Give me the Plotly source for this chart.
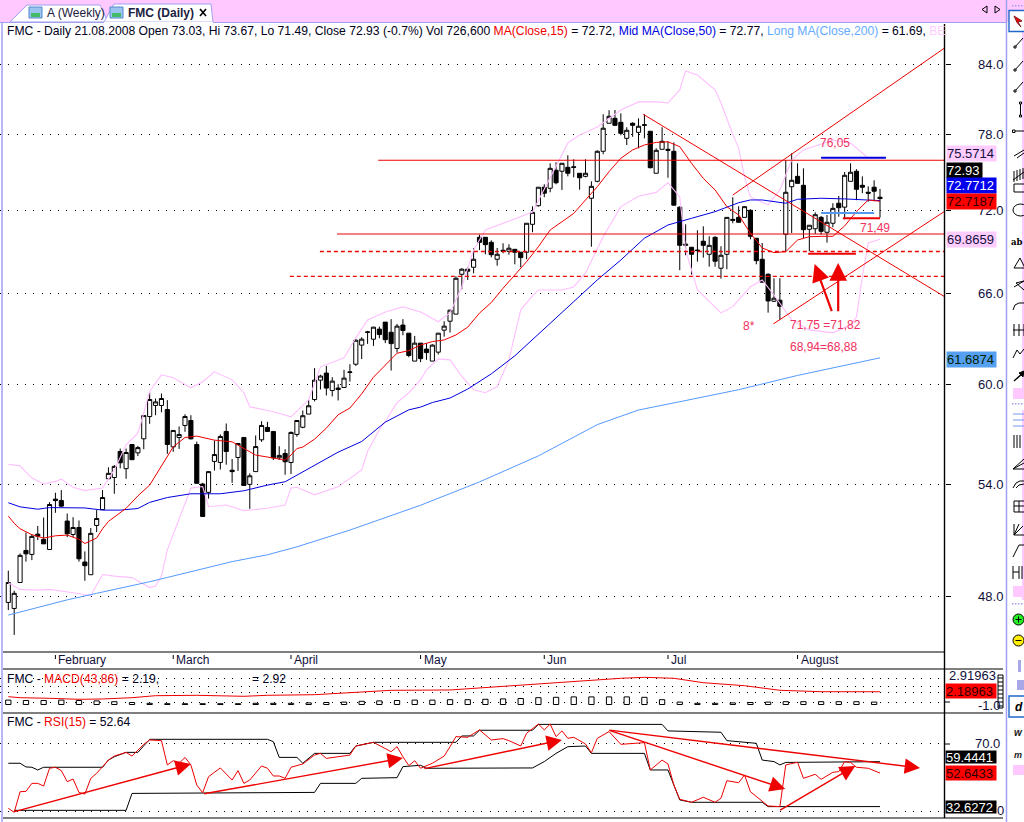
import math
import plotly.graph_objects as go

W, H = 1024, 822

# ---------- candles ----------
opens = [47.71,47.41,48.72,50.39,50.18,51.26,50.98,50.44,53.18,53.10,51.97,51.24,51.62,49.78,49.12,51.73,52.60,54.33,54.40,55.91,
54.91,56.32,55.83,56.66,58.00,58.68,58.68,58.43,56.18,56.74,57.46,57.76,56.32,54.03,53.56,55.33,55.27,57.10,54.82,55.56,
56.74,54.01,54.74,56.60,57.34,57.10,55.54,55.79,55.27,56.92,57.35,58.15,59.05,60.26,60.71,59.61,59.76,59.80,60.75,61.28,
62.52,63.36,62.91,63.58,64.05,63.37,62.30,63.85,63.31,61.48,62.65,62.26,61.48,62.06,63.51,64.11,64.59,67.35,67.71,67.85,
70.02,70.02,69.65,68.42,69.07,69.00,69.14,68.93,68.93,70.98,72.38,73.80,73.72,75.13,75.05,75.36,75.40,74.89,74.65,72.95,
74.26,76.64,78.93,79.34,79.01,77.69,78.93,78.18,78.81,78.27,74.89,76.80,76.80,76.64,72.27,69.43,69.29,69.09,69.73,68.78,
70.02,67.78,68.78,71.35,71.50,71.50,72.03,69.95,68.42,67.35,65.47,65.54,70.24,73.84,74.65,73.95,70.61,70.65,71.50,70.39,
71.06,72.57,72.27,74.26,75.05,73.95,73.41,73.80,73.03]
closes = [48.72,48.17,50.13,50.21,51.14,51.15,50.74,52.88,53.10,52.79,51.28,51.62,49.95,49.59,51.30,52.11,53.27,54.64,55.04,55.25,
55.85,55.43,56.14,58.06,59.05,58.90,59.11,56.32,57.16,56.92,58.00,56.66,54.07,52.22,54.74,55.73,56.80,55.91,54.74,56.38,
53.95,54.50,56.20,57.46,57.10,55.54,55.68,55.31,57.04,57.76,58.05,58.66,60.26,60.52,59.76,60.20,59.67,60.39,60.78,62.84,
62.91,63.39,63.71,63.22,62.88,62.62,63.78,63.49,61.84,62.65,61.64,62.03,62.52,63.31,63.78,64.86,67.07,67.71,67.57,68.42,
69.65,69.48,68.75,68.78,69.00,69.22,68.93,68.54,71.06,71.88,73.80,73.34,75.28,74.15,75.68,74.89,75.36,74.54,74.89,73.87,
76.64,78.52,79.51,78.76,78.10,78.35,78.76,78.68,78.77,75.33,76.72,77.45,76.72,72.42,69.43,69.51,68.78,69.05,69.43,69.43,
68.28,68.71,71.50,71.28,71.13,72.31,70.09,68.32,66.79,65.49,65.68,65.13,73.41,74.34,74.10,70.58,70.91,71.70,70.46,71.13,
72.18,72.23,74.73,74.97,73.64,73.80,73.34,73.49,72.93]
highs = [49.33,48.30,50.23,51.35,51.26,51.70,52.16,53.01,53.54,53.69,52.38,52.18,52.00,50.34,51.59,52.57,53.69,54.99,55.12,56.08,
56.08,56.32,56.24,58.06,59.48,59.11,59.42,59.01,57.16,57.40,58.14,58.08,56.49,54.10,54.74,56.56,56.92,57.58,55.47,56.38,
56.74,54.64,56.86,57.72,57.68,57.10,56.22,56.04,57.10,57.76,58.37,59.03,61.03,60.60,61.17,60.45,60.01,60.92,61.28,62.95,
63.04,63.46,63.73,63.75,64.05,64.25,63.93,64.25,63.31,63.13,62.65,62.65,62.58,63.31,64.11,64.86,67.21,67.78,67.84,69.22,
70.21,70.02,69.80,69.24,69.58,69.51,69.14,68.93,71.06,72.34,73.80,74.03,75.68,75.76,75.68,76.32,76.00,74.89,76.00,74.26,
76.72,79.68,80.02,80.04,79.76,78.60,79.01,79.34,79.68,78.27,76.88,78.60,77.45,77.36,72.34,70.98,69.29,70.54,70.83,70.09,
70.09,69.36,71.50,73.03,72.34,72.31,72.11,69.95,69.60,67.42,67.07,67.07,75.94,76.48,75.68,75.28,70.91,71.88,71.60,71.68,
72.57,73.13,74.99,75.68,75.21,74.65,73.87,74.34,73.67]
lows = [47.33,46.11,48.72,49.80,49.88,50.94,50.74,50.44,52.42,52.75,51.10,51.10,49.80,48.81,49.12,51.37,52.60,54.33,53.48,54.93,
54.33,55.43,55.64,56.04,57.56,58.08,58.26,55.77,55.89,56.06,57.08,56.62,54.07,52.22,53.21,54.80,54.86,55.14,54.10,54.78,
53.95,52.64,54.74,56.48,57.10,55.41,55.41,54.56,54.60,56.78,57.29,58.15,58.93,59.67,59.30,59.24,58.99,59.80,60.17,61.17,
61.61,62.60,62.47,62.97,62.65,60.87,62.03,63.17,61.73,61.48,61.41,61.56,61.48,61.91,63.08,63.35,64.59,66.30,66.95,67.42,
69.09,68.78,68.56,67.96,68.85,68.75,68.06,67.85,68.42,70.39,72.31,73.03,73.41,74.03,73.59,74.65,74.57,73.61,74.57,69.33,
74.18,76.40,78.93,78.70,77.94,77.15,77.82,76.88,77.69,75.28,74.89,76.80,74.54,72.42,67.64,68.71,67.33,68.25,68.54,67.89,
67.89,67.04,67.71,71.06,71.13,71.50,69.87,68.06,66.79,64.69,65.42,64.20,68.97,70.34,74.10,69.95,69.00,70.26,70.21,69.63,
70.76,71.55,71.35,74.26,72.80,73.34,72.69,72.72,71.49]
bars = list(range(len(closes)))

# ---------- overlays: bar index, then price ----------
ma15_x = [0,1,2,4,6,8,10,12,13,14,15,16,17,20,22,24,26,28,30,32,35,38,42,46,47,48,49,50,52,54,56,58,60,62,64,66,68,70,72,74,76,78,80,82,84,86,88,90,92,94,96,98,100,102,104,106,108,110,112,114,116,118,120,122,124,126,128,130,132,134,136,138,140,142,144,146,148]
ma15 = [52.24,51.85,51.55,51.23,51.05,51.17,51.21,50.98,50.76,50.89,51.05,51.55,51.95,52.67,53.36,53.97,55.06,56.18,56.74,56.82,56.58,56.48,55.70,55.50,55.41,55.70,56.08,56.17,56.64,57.30,58.11,58.52,59.40,60.45,61.24,61.99,62.16,62.53,62.75,62.86,63.19,63.71,64.66,65.38,66.37,67.31,68.25,69.33,70.56,71.17,71.80,72.82,73.84,75.02,76.08,76.75,77.15,77.36,77.41,77.01,75.68,74.49,73.59,72.31,71.68,70.32,69.24,68.90,68.97,69.82,70.06,70.09,70.09,70.86,71.93,72.82,72.72]
ma50_x = [0,2,5,7,13,16,19,22,24,27,31,36,40,44,47,49,52,56,60,64,68,70,72,74,75,78,82,86,90,94,96,100,104,108,112,116,120,124,126,128,132,134,138,142,146,148]
ma50 = [52.98,52.75,52.62,52.71,52.69,52.57,52.57,52.66,53.00,53.27,53.48,53.48,53.65,53.97,54.16,54.54,55.07,55.87,56.50,57.66,58.41,58.58,58.86,59.03,59.14,59.70,60.66,61.82,63.26,64.76,65.44,66.95,68.37,69.95,70.93,71.43,71.93,72.61,72.82,72.82,72.57,72.87,72.95,72.90,72.82,72.77]
ma200_x = [0,5,10,15,20,24,27,32,38,44,49,58,70,80,90,100,107,114,124,134,148]
ma200 = [47.08,47.45,47.84,48.17,48.48,48.76,48.98,49.36,49.80,50.16,50.58,51.48,52.84,54.15,55.65,57.51,58.40,58.91,59.66,60.56,61.69]
bb_top_x = [0,2,4,6,8,9,11,13,16,18,20,22,23,24,26,28,31,33,35,38,40,41,45,48,51,53,57,59,61,64,67,70,73,75,77,79,81,87,89,95,97,100,104,107,110,112,114,115,117,120,121,123,124,125,126,129,131,133,135,140,143,146,148]
bb_top = [55.17,55.07,54.37,54.03,54.18,54.31,53.85,53.66,53.80,54.84,56.30,57.00,58.21,59.55,60.60,60.41,59.78,60.16,60.79,60.28,59.47,58.60,58.29,57.98,59.03,61.11,61.69,63.00,64.20,64.74,65.08,64.74,64.07,64.67,66.46,69.09,70.56,71.60,71.90,77.30,77.96,78.62,80.04,80.72,80.72,80.63,81.75,83.38,83.03,81.75,80.63,78.03,76.90,74.60,73.05,72.44,73.59,75.94,76.75,77.55,77.30,76.10,76.10]
bb_low_x = [0,2,5,7,11,14,16,18,21,24,25,26,27,29,31,33,34,37,40,44,47,48,49,52,56,60,61,63,64,66,68,70,71,73,75,77,79,81,83,85,87,89,90,94,96,98,101,104,107,110,112,114,115,117,121,123,126,128,130,133,136,140,143,144,145,146,148]
bb_low = [48.71,48.37,48.33,48.37,48.20,48.06,49.13,49.05,48.97,48.46,48.54,49.05,50.42,52.03,53.80,53.89,52.76,52.85,52.54,52.67,52.85,53.80,53.85,53.42,53.87,54.84,55.91,57.20,57.70,58.85,59.47,60.28,60.92,61.62,61.56,60.50,59.66,59.47,59.86,61.56,64.88,65.84,66.25,66.25,66.46,67.45,70.06,72.31,73.10,73.40,74.15,73.05,69.09,66.25,64.67,65.10,66.48,66.95,65.90,64.20,63.53,63.33,63.87,64.40,67.16,69.60,69.87]

# ---------- drawn studies: [bar, bar], [price, price] ----------
trend_lines = [([107.8,158.95],[79.68,65.79]), ([123,158.95],[73.2,85.42]), ([129.9,158.95],[63.93,71.95])]
solid_levels = [(62.8,75.92),(55.8,70.26)]
dashed_levels = [(52.9,68.98),(47.8,67.20)]
level_end = 158.95
marks = [(138,149,76.12,"#0000E0"),(138,147,71.83,"#5599EE"),(141.7,148,71.43,"#EE0000"),(135.8,143.9,68.82,"#EE0000")]
price_arrows = [(136.9,68.08,139.9,64.69),(140.9,68.15,140.9,64.69)]
price_ticks = [48,54,60,66,72,78,84]

# ---------- MACD ----------
macd_x = [0,2,7,12,16,21,25,32,40,44,52,59,65,75,82,85,95,104,108,113,118,125,131,138,148]
macd = [0.95,0.70,0.55,0.30,0.38,0.70,1.20,1.30,1.05,1.30,1.45,1.95,2.55,2.63,3.38,3.63,4.70,5.55,5.80,5.55,4.45,3.70,2.55,2.20,2.19]
hist_x = list(range(0,148,3))
hist = [1.1,1.0,1.0,1.1,1.0,.9,.7,.5,.3,.2,.2,.2,.2,.2,.3,.3,.3,.4,.5,.6,.8,.9,1.0,1.1,1.1,1.2,1.2,1.3,1.4,1.5,1.7,1.8,1.9,1.9,1.9,1.9,1.8,1.2,.6,.3,.3,.4,.5,.6,.7,.7,.7,.7,.7,.6]
macd_rows = [5.4,3.4,1.9,-0.4]

# ---------- RSI ----------
rsi_x = [0,1,2,3,4,5,6,7,8,9,10,11,12,13,14,15,17,18,20,21,23,24,26,27,28,29,30,31,32,33,34,36,38,39,40,41,43,44,45,46,47,48,50,52,53,54,56,58,59,62,65,66,67,68,69,70,72,74,75,76,78,80,82,84,85,87,88,90,91,92,93,94,95,96,98,99,100,102,104,108,109,111,112,113,114,116,118,120,121,122,124,125,126,129,131,132,134,135,137,138,140,141,142,143,144,146,148]
rsi = [31.6,29.2,41.5,41.7,46.5,46.5,44.9,55.5,56.1,54.1,47.5,49.1,41.1,40.1,49.5,52.5,60.4,62.8,65,62.8,69.8,72.4,72,57.5,60,58.5,62,57.5,45.5,40.9,50.5,55.7,48.5,54.1,46.5,48.5,56.9,55.5,50.9,50.9,49.5,56.1,58.1,63.4,64.4,61.4,62.4,63.4,68.8,71,65.4,68.4,62.4,57.1,60,55.5,58.5,62.8,68.4,74.4,74,78.4,72.4,73.2,72,68.8,76.4,81.9,78.4,81.9,74.4,77.8,73.4,74,70,64.8,73.4,77.4,69.8,70.8,54.5,60.4,58.1,45.5,37,35.2,38.2,35.2,37.6,48.1,46.9,51.5,41.5,33,32.6,57.5,59.1,49.5,51.9,48.9,53.1,53.5,59.5,59,56.1,55.5,52.64]
rsi_up_x = [0,2,3,4,5,6,16,17,18,20,22,24,44,45,46,49,50,52,58,59,62,76,77,79,80,89,90,111,112,121,122,127,128,130,131,132,148]
rsi_up = [58.5,58.5,56.3,56.1,54.5,56.1,56.1,60.4,62.4,65,65,72.8,72.8,71.4,62,62,58.5,64.4,64.4,68.8,71,71,74.8,74.8,78.2,78.2,81.7,81.7,77.8,77,72,70.4,60.4,59.5,57.5,59,59.44]
rsi_lo_x = [1,20,21,52,53,59,60,66,67,70,71,89,91,93,95,98,99,108,109,112,113,114,116,128,129,148]
rsi_lo = [30.4,30.4,40.5,41.1,46.5,46.5,49.5,49.9,56.5,57.3,55.5,55.7,59.5,64.4,68.4,68.8,64.4,64.4,54.5,54.5,45.5,36.6,35.2,35.2,32.6,32.63]
rsi_arrows = [(31,58.1,0.8,29.4),(67,61.6,33,40.1),(94,72.4,70.4,55.1),(131.9,43.1,101.8,78.4),(154.8,55.7,101.8,78.4),(143.8,56.9,130.8,30)]

months = ["February","March","April","May","Jun","Jul","August"]
month_bars = [8,28,48,70,91,112,134]

FONT = "Liberation Sans"
INK = "#10103c"
RED = "#EE0000"
PINK = "#FFBFFF"
TXT = "#F03060"
PANE = "#A0A0F0"

def px(x): return x / W
def py(y): return 1 - y / H

fig = go.Figure()

def line(x, y, color, width=1, dash=None, xa="x", ya="y"):
    fig.add_trace(go.Scatter(x=x, y=y, mode="lines", xaxis=xa, yaxis=ya, hoverinfo="skip", showlegend=False,
                             line=dict(color=color, width=width, dash=dash, shape="linear")))

line(bb_top_x, bb_top, PINK, 1.1)
line(bb_low_x, bb_low, PINK, 1.1)
line(ma200_x, ma200, "#5599FF", 1)
line(ma50_x, ma50, "#0000E0", 1)
line(ma15_x, ma15, RED, 1)
fig.add_trace(go.Candlestick(x=bars, open=opens, high=highs, low=lows, close=closes, xaxis="x", yaxis="y",
    showlegend=False, hoverinfo="skip", whiskerwidth=0,
    increasing=dict(line=dict(color="black", width=1), fillcolor="white"),
    decreasing=dict(line=dict(color="black", width=1), fillcolor="black")))
for a, b in solid_levels:
    line([a, level_end], [b, b], RED, 1.2)
for a, b in dashed_levels:
    line([a, level_end], [b, b], RED, 1.3, "4px,3px")
for xs, ys in trend_lines:
    line(xs, ys, RED, 1)
for a, b, p, c in marks:
    line([a, b], [p, p], c, 2)

# MACD pane
fig.add_trace(go.Bar(x=hist_x, y=hist, base=-1, xaxis="x2", yaxis="y2", width=0.9, showlegend=False, hoverinfo="skip",
                     marker=dict(color="white", line=dict(color="black", width=1))))
line(macd_x, macd, RED, 1, xa="x2", ya="y2")

# RSI pane
line(rsi_up_x, rsi_up, "black", 1, xa="x3", ya="y3")
line(rsi_lo_x, rsi_lo, "black", 1, xa="x3", ya="y3")
line(rsi_x, rsi, RED, 1, xa="x3", ya="y3")

ann = []
def text(x, y, t, size=12, color=INK, anchor="left", **kw):
    ann.append(dict(x=px(x), y=py(y), xref="paper", yref="paper", text=t, showarrow=False, xanchor=anchor, yanchor="middle",
                    font=dict(family=kw.pop("family", FONT), size=size, color=color), **kw))
def box(x, y0, y1, w, t, bg, fg):
    ann.append(dict(x=px(x), y=py((y0 + y1) / 2), xref="paper", yref="paper", text=t, showarrow=False, xanchor="left", yanchor="middle",
                    width=w, height=y1 - y0, borderpad=0, align="left", bgcolor=bg,
                    font=dict(family=FONT, size=13, color=fg)))

# arrows
for hx, hy, tx, ty in price_arrows:
    ann.append(dict(x=hx, y=math.log10(hy), ax=tx, ay=math.log10(ty), xref="x", yref="y", axref="x", ayref="y", text="",
                    showarrow=True, arrowhead=2, arrowsize=1.6, arrowwidth=2.2, arrowcolor=RED))
for hx, hy, tx, ty in rsi_arrows:
    ann.append(dict(x=hx, y=hy, ax=tx, ay=ty, xref="x3", yref="y3", axref="x3", ayref="y3", text="",
                    showarrow=True, arrowhead=2, arrowsize=2.2, arrowwidth=1.4, arrowcolor=RED))

# headers
text(4.5, 31, 'FMC - Daily 21.08.2008 Open 73.03, Hi 73.67, Lo 71.49, Close 72.93 (-0.7%) Vol 726,600 '
     '<span style="color:#EE0000">MA(Close,15)</span> = 72.72, <span style="color:#0000E0">Mid MA(Close,50)</span> = 72.77, '
     '<span style="color:#66AAFF">Long MA(Close,200)</span> = 61.69, <span style="color:#FFCCFF">BE</span>', 12.15, "#000020")
text(4.5, 679, 'FMC - <span style="color:#EE0000">MACD(43,86)</span> = 2.19,', 12.15, "#000020")
text(250, 679, '= 2.92', 12.15, "#000020")
text(4.5, 722, 'FMC - <span style="color:#EE0000">RSI(15)</span> = 52.64', 12.15, "#000020")

# chart labels
text(818, 143, "76,05", 12, TXT)
text(858, 228, "71,49", 12, TXT)
text(741, 326, "8*", 12, TXT)
text(788, 325, "71,75 =71,82", 12, TXT)
text(788, 347, "68,94=68,88", 12, TXT)

# month labels
for m, b in zip(months, month_bars):
    ann.append(dict(x=b, y=py(660), xref="x", yref="paper", text=m, showarrow=False, xanchor="left", yanchor="middle", xshift=1,
                    font=dict(family=FONT, size=12, color=INK)))

# value boxes
box(946, 146, 161, 49, "75.5714", "#FFCCFF", "#10103c")
box(946, 163, 178, 35, "72.93", "black", "white")
box(946, 178, 193, 49, "72.7712", "#0000EE", "white")
box(946, 194, 209, 49, "72.7187", "#FF0000", "#300000")
box(946, 232, 247, 49, "69.8659", "#FFCCFF", "#10103c")
box(946, 352, 367, 49, "61.6874", "#55A0F0", "#002000")
text(947, 675, "2.91963", 13)
box(945, 684, 698, 50, "2.18963", "#FF0000", "#300000")
text(1002, 705, "-1.0", 13, anchor="right")
text(1002, 743, "70.0", 13, anchor="right")
box(945, 751, 763, 50, "59.4441", "black", "white")
box(945, 766, 780, 50, "52.6433", "#FF0000", "#300000")
box(945, 801, 813, 50, "32.6272", "black", "white")
text(995, 810, "0", 13)

# ---------- window furniture ----------
sh = []
def seg(x0, y0, x1, y1, color="black", w=1):
    sh.append(dict(type="line", xref="paper", yref="paper", x0=px(x0), y0=py(y0), x1=px(x1), y1=py(y1), line=dict(color=color, width=w)))
def rect(x0, y0, x1, y1, fill=None, color=None, w=1):
    sh.append(dict(type="rect", xref="paper", yref="paper", x0=px(x0), y0=py(y0), x1=px(x1), y1=py(y1),
                   fillcolor=fill or "rgba(0,0,0,0)", line=dict(color=color or "rgba(0,0,0,0)", width=w if color else 0)))
def poly(pts, fill=None, color="black", w=1, close=False):
    d = "M" + " L".join(f"{px(a):.5f},{py(b):.5f}" for a, b in pts) + (" Z" if close else "")
    sh.append(dict(type="path", xref="paper", yref="paper", path=d, fillcolor=fill or "rgba(0,0,0,0)", line=dict(color=color, width=w)))

rect(0, 0, W, 22, "#FFC8FF")
seg(0, 22.5, 1006, 22.5, PANE, 1)
seg(2, 22, 2, H, PANE, 1.5)
seg(1006.5, 0, 1006.5, H, PANE, 1.5)
# tabs
poly([(10, 22), (27, 5), (100, 5), (108, 22)], "white", PANE, 1, True)
poly([(104, 22), (114, 4), (211, 4), (213, 22)], "white", PANE, 1, True)
seg(104, 22.5, 213, 22.5, "white", 1.5)
for x0 in (29, 110):
    rect(x0, 7, x0 + 13, 18, "#9CC4F0", "#5588CC")
    rect(x0 + 2, 13, x0 + 11, 17, "#44BB66")
text(45, 13, "A (Weekly)", 12, "#202040")
text(126, 13, "<b>FMC (Daily)</b>", 12, "#202040")
seg(200, 9, 206, 16, "black", 1.6)
seg(206, 9, 200, 16, "black", 1.6)
poly([(987, 6), (982, 9.5), (987, 13)], "#FFC8FF", "black", 1, True)
poly([(995, 6), (1000, 9.5), (995, 13)], "#FFC8FF", "black", 1, True)
# frames
seg(944.5, 24, 944.5, 818, "black", 1.4)
seg(3, 652, 945, 652, "black", 1.2)
seg(3, 669, 1003, 669, "black", 1.2)
seg(3, 713, 1003, 713, "black", 1.2)
seg(3, 818, 1003, 818, "black", 1.2)
for b in month_bars:
    sh.append(dict(type="line", xref="x", yref="paper", x0=b, x1=b, y0=py(655), y1=py(659), line=dict(color="black", width=1)))
# MACD legend chain
rect(998, 675, 1003, 708, "white", "black", 1)
for yy in range(678, 708, 4):
    seg(998, yy, 1003, yy, "black", 1)
seg(945, 702, 950, 702, "black", 1)
seg(945, 744, 950, 744, "black", 1)
# toolbar strip
rect(1022, 32, 1024, 395, "#FFC8FF")
rect(1022, 410, 1024, 600, "#FFC8FF")
for xx in range(1012, 1024, 3):
    rect(xx, 5, xx + 1.5, 6.5, PANE)
    rect(xx, 403, xx + 1.5, 404.5, PANE)
    rect(xx, 603, xx + 1.5, 604.5, PANE)
rect(1009, 10.5, 1025, 31.5, "white", "#2266CC", 1.4)
poly([(1014, 16), (1022, 21), (1018, 22), (1021, 27), (1017, 22.5)], RED, "#882222", 1, True)
for yy in (38, 61, 82):
    seg(1015, yy + 9, 1023, yy, "black", 1)
    rect(1014, yy + 8, 1016, yy + 10, "white", "black")
seg(1020.5, 103, 1020.5, 116, "black", 1)
rect(1019.5, 102, 1021.5, 104, "white", "black")
rect(1019.5, 115, 1021.5, 117, "white", "black")
seg(1014, 131, 1024, 131, "black", 1)
rect(1012.5, 130, 1015, 132.5, "white", "black")
seg(1014, 156, 1024, 150, "black", 1); seg(1017, 158, 1024, 153, "black", 1)
for k in range(4):
    seg(1014 + 3 * k, 182 - k, 1014 + 3 * k, 171 - k, "black", 1)
seg(1013, 180, 1024, 172, "black", 1)
rect(1014, 184, 1025, 192, None, "black")
sh.append(dict(type="circle", xref="paper", yref="paper", x0=px(1013), x1=px(1028), y0=py(204), y1=py(216), line=dict(color="black", width=1)))
text(1009, 242, "<b>ab</b>", 8.5, "black", family="DejaVu Serif")
poly([(1014, 268), (1020, 258), (1025, 268)], None, "black", 1, True)
poly([(1014, 287), (1024, 281), (1016, 283), (1024, 290)], None, "black", 1)
poly([(1013, 310), (1015, 305), (1019, 303), (1024, 303)], None, "black", 1)
seg(1014, 324, 1014, 336); seg(1019, 324, 1019, 336); seg(1024, 324, 1024, 336); seg(1013, 330, 1024, 330)
poly([(1013, 358), (1017, 350), (1020, 354), (1024, 349)], None, "black", 1)
seg(1014, 381, 1024, 372, "black", 1.4)
poly([(1024, 371), (1019, 373), (1023, 377)], "black", "black", 1, True)
rect(1013, 388, 1024, 399, "#FFC8FF")
for yy in (414, 420, 426):
    seg(1013, yy, 1024, yy, "#7799EE", 1)
for xx in (1014, 1017, 1020):
    seg(xx, 435, xx, 448, "black", 1)
seg(1013, 469, 1024, 459); seg(1013, 469, 1024, 463); seg(1013, 469, 1024, 469)
poly([(1013, 488), (1016, 483), (1020, 481), (1024, 481)], None, "black", 1)
poly([(1016, 488), (1019, 485), (1024, 484)], None, "black", 1)
rect(1014, 501, 1025, 512, None, "black"); seg(1014, 506, 1025, 506); seg(1019, 501, 1019, 512)
seg(1014, 535, 1014, 524); seg(1014, 535, 1024, 535); seg(1014, 535, 1023, 526); seg(1014, 535, 1019, 524)
seg(1013, 557, 1019, 545); seg(1019, 545, 1024, 545)
seg(1013, 566, 1013, 579); seg(1019, 566, 1019, 579); seg(1013, 572, 1019, 572); seg(1022, 566, 1022, 579)
rect(1013, 586, 1024, 597, "#FFC8FF")
sh.append(dict(type="circle", xref="paper", yref="paper", x0=px(1013), x1=px(1024), y0=py(625), y1=py(614), fillcolor="#22EE22", line=dict(color="black", width=1)))
sh.append(dict(type="circle", xref="paper", yref="paper", x0=px(1013), x1=px(1024), y0=py(646), y1=py(635), fillcolor="#FFEE00", line=dict(color="black", width=1)))
seg(1015.5, 619.5, 1021.5, 619.5); seg(1018.5, 616.5, 1018.5, 622.5); seg(1015.5, 640.5, 1021.5, 640.5)
rect(1018, 660, 1021, 672, "#A8A8E8")
rect(1017, 680, 1024, 690, "#A8A8E8")
rect(1009, 696, 1025, 717, "white", "#2266CC", 1.4)
text(1013, 707, "<b><i>d</i></b>", 12, "black")
text(1012, 732, "<b><i>w</i></b>", 10, "#202020")
text(1012, 755, "<b><i>m</i></b>", 9, "#202020")
rect(1013, 765, 1024, 775, "#FFC8FF")

axis_common = dict(showline=False, zeroline=False, showticklabels=False, ticks="")
grid_dot = dict(showgrid=True, gridcolor="black", gridwidth=1, griddash="1px,7.3px")
X_RANGE = [-1.409, 158.95]
fig.update_layout(
    width=W, height=H, autosize=False, margin=dict(l=0, r=0, t=0, b=0, pad=0), paper_bgcolor="white", plot_bgcolor="white",
    showlegend=False, boxgap=0, barmode="overlay", shapes=sh, annotations=ann, font=dict(family=FONT),
    xaxis=dict(domain=[0, 944.5 / W], range=X_RANGE, anchor="y", showgrid=False, rangeslider=dict(visible=False), **axis_common),
    xaxis2=dict(domain=[0, 944.5 / W], range=X_RANGE, anchor="y2", showgrid=False, **axis_common),
    xaxis3=dict(domain=[0, 944.5 / W], range=X_RANGE, anchor="y3", showgrid=False, **axis_common),
    yaxis=dict(type="log", domain=[py(652), py(22)], range=[math.log10(45.29), math.log10(87.79)], side="right", anchor="x",
               tickmode="array", tickvals=price_ticks, ticktext=[f"{v}.0" for v in price_ticks], showline=False, zeroline=False,
               ticks="outside", ticklen=5, tickcolor="black", ticklabelstandoff=25,
               tickfont=dict(family=FONT, size=13, color=INK), **grid_dot),
    yaxis2=dict(domain=[py(713), py(669)], range=[-3.125, 7.875], anchor="x2", tickmode="array", tickvals=macd_rows, **axis_common, **grid_dot),
    yaxis3=dict(domain=[py(818), py(713)], range=[25.82, 88.5], anchor="x3", tickmode="array", tickvals=[70, 30], **axis_common, **grid_dot),
)

fig.write_html("out.html", config=dict(displayModeBar=False),
               post_script="document.body.style.margin='0';document.body.style.overflow='hidden';")
